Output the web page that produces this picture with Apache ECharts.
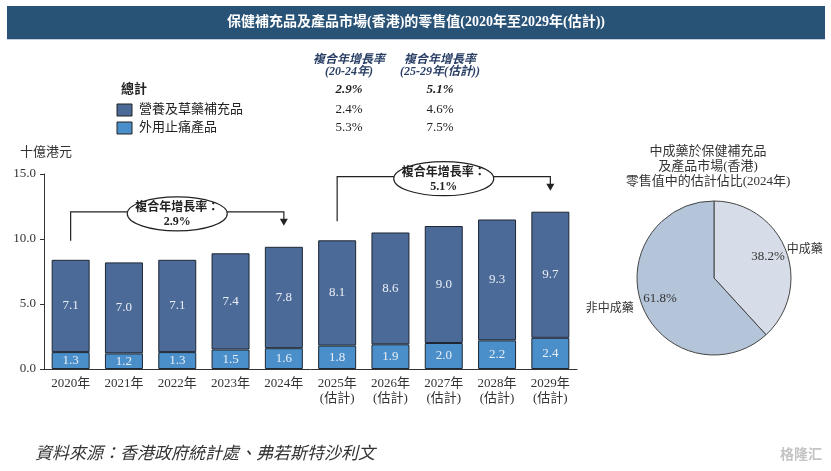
<!DOCTYPE html>
<html>
<head>
<meta charset="utf-8" />
<title>保健補充品及產品市場(香港)的零售值</title>
<script src="https://cdn.jsdelivr.net/npm/echarts@6/dist/echarts.min.js"></script>
<style>
  html, body { margin: 0; padding: 0; background: #fff; }
  #main { width: 831px; height: 471px; }
</style>
</head>
<body>
<div id="main"></div>
<script>
// 數據
var xLabels = ['2020年', '2021年', '2022年', '2023年', '2024年',
  '2025年\n(估計)', '2026年\n(估計)', '2027年\n(估計)', '2028年\n(估計)', '2029年\n(估計)'];
var herbal = [7.1, 7.0, 7.1, 7.4, 7.8, 8.1, 8.6, 9.0, 9.3, 9.7];
var topical = [1.3, 1.2, 1.3, 1.5, 1.6, 1.8, 1.9, 2.0, 2.2, 2.4];
var totals = [8.4, 8.2, 8.4, 8.9, 9.4, 9.9, 10.5, 11.0, 11.5, 12.1];
var yTicks = [0, 5, 15];

// 複合年增長率表
var cagrHeads = [['複合年增長率', '(20-24年)'], ['複合年增長率', '(25-29年(估計))']];
var cagrNames = ['總計', '營養及草藥補充品', '外用止痛產品'];
var cagr2024 = ['2.9%', '2.4%', '5.3%'];
var cagr2029 = ['5.1%', '4.6%', '7.5%'];
// 括號: [起始年, 結束年, 增長率]
var cagrSpans = [[0, 4, '2.9%'], [5, 9, '5.1%']];

// 餅圖
var pieNames = ['中成藥', '非中成藥'];
var pieValues = [38.2, 61.8];

var DARK = '#4c6a97';
var LIGHT = '#4a8fc9';
var SERIF = "'Liberation Serif', 'Noto Sans CJK TC', serif";

var myChart = echarts.init(document.getElementById('main'));

myChart.setOption({
  animation: false,
  textStyle: { fontFamily: SERIF },
  grid: { left: 44, right: 254, top: 174, bottom: 102 },
  xAxis: {
    type: 'category',
    data: xLabels,
    axisLine: { lineStyle: { color: '#333', width: 1 } },
    axisTick: { show: false },
    axisLabel: { color: '#333', fontSize: 13, lineHeight: 15, margin: 7, fontFamily: SERIF }
  },
  yAxis: {
    type: 'value',
    min: 0,
    max: yTicks[2],
    interval: yTicks[1],
    axisLine: { show: true, lineStyle: { color: '#333' } },
    axisTick: { show: true, length: 4, lineStyle: { color: '#333' } },
    splitLine: { show: false },
    axisLabel: {
      color: '#333', fontSize: 13, margin: 8, fontFamily: SERIF,
      formatter: function (v) { return v.toFixed(1); }
    }
  },
  series: [
    {
      name: '外用止痛產品',
      type: 'bar',
      stack: 'total',
      barWidth: 38,
      data: topical,
      itemStyle: { color: LIGHT, borderColor: '#1e2733', borderWidth: 1 },
      label: {
        show: true, position: 'inside', color: '#e8eef6', fontSize: 13, fontFamily: SERIF,
        formatter: function (p) { return p.value.toFixed(1); }
      }
    },
    {
      name: '營養及草藥補充品',
      type: 'bar',
      stack: 'total',
      barWidth: 38,
      data: herbal,
      itemStyle: { color: DARK, borderColor: '#1e2733', borderWidth: 1 },
      label: {
        show: true, position: 'inside', color: '#e8eef6', fontSize: 13, fontFamily: SERIF,
        formatter: function (p) { return p.value.toFixed(1); }
      }
    },
    {
      name: '總計',
      type: 'scatter',
      data: totals,
      symbolSize: 1,
      itemStyle: { opacity: 0 },
      silent: true,
      label: {
        show: true, position: 'top', distance: 3, color: '#222', fontSize: 13, fontFamily: SERIF,
        formatter: function (p) { return p.value.toFixed(1); }
      }
    },
    {
      type: 'pie',
      center: [714, 278],
      radius: 77,
      startAngle: 90,
      clockwise: true,
      silent: true,
      data: pieNames.map(function (n, i) {
        var item = { name: n, value: pieValues[i] };
        // 左側標籤離餅圖稍遠
        if (i === 1) item.labelLine = { length: 9 };
        return item;
      }),
      itemStyle: { borderColor: '#444', borderWidth: 1 },
      color: ['#d6dde8', '#b4c4d9'],
      label: {
        show: true, position: 'outside', color: '#333', fontSize: 12, fontFamily: SERIF,
        formatter: '{b}', overflow: 'none', edgeDistance: 0, distanceToLabelLine: 0
      },
      labelLine: { show: false, length: 1, length2: 0 }
    },
    {
      // 百分比標籤
      type: 'pie',
      center: [714, 278],
      radius: [0, 110],
      startAngle: 90,
      clockwise: true,
      silent: true,
      z: 3,
      data: pieNames.map(function (n, i) { return { name: n, value: pieValues[i] }; }),
      itemStyle: { color: 'rgba(0,0,0,0)', borderWidth: 0 },
      label: {
        show: true, position: 'inside', color: '#333', fontSize: 13, fontFamily: SERIF,
        formatter: function (p) { return p.value.toFixed(1) + '%'; }
      }
    }
  ]
});

// 標題、表格及註解
function buildGraphic() {
  var g = [];
  g.push({ type: 'rect', shape: { x: 7, y: 6, width: 818, height: 33 }, style: { fill: '#285276' } });
  g.push({ type: 'rect', shape: { x: 7, y: 39, width: 818, height: 1 }, style: { fill: '#c3cfdc' } });
  g.push({
    type: 'text', x: 416, y: 22,
    style: {
      text: '保健補充品及產品市場(香港)的零售值(2020年至2029年(估計))',
      fill: '#fff', font: 'bold 14px ' + SERIF, align: 'center', verticalAlign: 'middle'
    }
  });

  // 表頭
  var colX = [349, 440];
  cagrHeads.forEach(function (h, c) {
    h.forEach(function (t, k) {
      g.push({
        type: 'text', x: colX[c], y: 60 + k * 12,
        style: { text: t, fill: '#2a3f66', font: 'italic bold 12px ' + SERIF, align: 'center', verticalAlign: 'middle' }
      });
    });
  });
  var rowY = [90, 110, 128];
  var boxColors = [null, DARK, LIGHT];
  cagrNames.forEach(function (n, r) {
    var bold = r === 0;
    if (boxColors[r]) {
      g.push({
        type: 'rect', shape: { x: 117, y: rowY[r] - 6, width: 15, height: 12 },
        style: { fill: boxColors[r], stroke: '#222', lineWidth: 1 }
      });
    }
    g.push({
      type: 'text', x: bold ? 121 : 139, y: rowY[r],
      style: { text: n, fill: '#222', font: (bold ? 'bold ' : '') + '13px ' + SERIF, verticalAlign: 'middle' }
    });
    [cagr2024[r], cagr2029[r]].forEach(function (v, c) {
      g.push({
        type: 'text', x: colX[c], y: rowY[r],
        style: { text: v, fill: '#222', font: (bold ? 'italic bold ' : '') + '13px ' + SERIF, align: 'center', verticalAlign: 'middle' }
      });
    });
  });

  // 單位
  g.push({
    type: 'text', x: 20, y: 153,
    style: { text: '十億港元', fill: '#333', font: '13px ' + SERIF, verticalAlign: 'middle' }
  });

  // 複合年增長率括號
  cagrSpans.forEach(function (s) {
    var p0 = myChart.convertToPixel({ gridIndex: 0 }, [s[0], totals[s[0]]]);
    var p1 = myChart.convertToPixel({ gridIndex: 0 }, [s[1], totals[s[1]]]);
    var hiVal = Math.max.apply(null, totals.slice(s[0], s[1] + 1));
    var hi = myChart.convertToPixel({ gridIndex: 0 }, [s[1], hiVal])[1];
    var yStart = p0[1] - 19, yLine = hi - 35, yTip = p1[1] - 21;
    g.push({
      type: 'polyline', z: 10,
      shape: { points: [[p0[0], yStart], [p0[0], yLine], [p1[0], yLine], [p1[0], yTip - 6]] },
      style: { stroke: '#222', lineWidth: 1.2, fill: null }
    });
    g.push({
      type: 'polygon', z: 10,
      shape: { points: [[p1[0] - 4, yTip - 7], [p1[0] + 4, yTip - 7], [p1[0], yTip]] },
      style: { fill: '#222' }
    });
    var cx = (p0[0] + p1[0]) / 2, cy = yLine + 2;
    g.push({
      type: 'ellipse', z: 11,
      shape: { cx: cx, cy: cy, rx: 50, ry: 17 },
      style: { fill: '#fff', stroke: '#222', lineWidth: 1.2 }
    });
    g.push({
      type: 'text', z: 12, x: cx, y: cy - 6,
      style: { text: '複合年增長率：', fill: '#222', font: 'bold 12px ' + SERIF, align: 'center', verticalAlign: 'middle' }
    });
    g.push({
      type: 'text', z: 12, x: cx, y: cy + 8,
      style: { text: s[2], fill: '#222', font: 'bold 12px ' + SERIF, align: 'center', verticalAlign: 'middle' }
    });
  });

  // 餅圖標題
  ['中成藥於保健補充品', '及產品市場(香港)', '零售值中的估計佔比(2024年)'].forEach(function (t, k) {
    g.push({
      type: 'text', x: 708, y: 152 + k * 15,
      style: { text: t, fill: '#333', font: '13px ' + SERIF, align: 'center', verticalAlign: 'middle' }
    });
  });

  // 資料來源
  g.push({
    type: 'text', x: 35, y: 455,
    style: { text: '資料來源：香港政府統計處、弗若斯特沙利文', fill: '#333', font: 'italic 17px ' + SERIF, verticalAlign: 'middle' }
  });
  g.push({
    type: 'text', x: 822, y: 455,
    style: { text: '格隆汇', fill: '#c4c4c4', font: 'bold 14px ' + SERIF, align: 'right', verticalAlign: 'middle' }
  });
  return g;
}

myChart.setOption({ graphic: buildGraphic() });

window.onresize = function () {
  myChart.resize();
  myChart.setOption({ graphic: buildGraphic() });
};
</script>
</body>
</html>
